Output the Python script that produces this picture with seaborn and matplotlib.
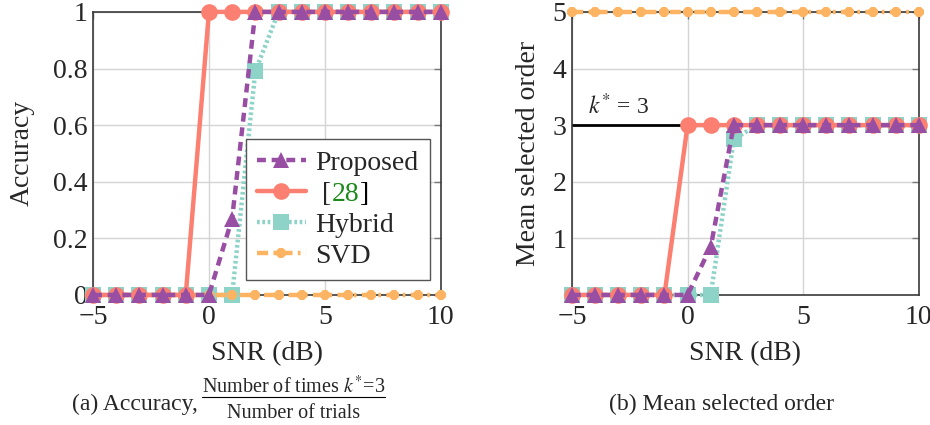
import numpy as np
import pandas as pd
from matplotlib import pyplot as plt
import seaborn as sns

# SNR sweep (dB)
snr = list(range(-5, 11))

# accuracy = number of times k*=3 / number of trials
acc_proposed = [0, 0, 0, 0, 0, 0, 0.27, 1, 1, 1, 1, 1, 1, 1, 1, 1]
acc_ref28 = [0, 0, 0, 0, 0, 1, 1, 1, 1, 1, 1, 1, 1, 1, 1, 1]
acc_hybrid = [0, 0, 0, 0, 0, 0, 0, 0.79, 1, 1, 1, 1, 1, 1, 1, 1]
acc_svd = [0] * 16

# mean selected order
ord_proposed = [0, 0, 0, 0, 0, 0, 0.85, 3, 3, 3, 3, 3, 3, 3, 3, 3]
ord_ref28 = [0, 0, 0, 0, 0, 3, 3, 3, 3, 3, 3, 3, 3, 3, 3, 3]
ord_hybrid = [0, 0, 0, 0, 0, 0, 0, 2.75, 3, 3, 3, 3, 3, 3, 3, 3]
ord_svd = [5] * 16

k_true = 3

sns.set_style('whitegrid')
plt.rcParams['font.family'] = ['Liberation Serif', 'DejaVu Serif']
plt.rcParams['mathtext.fontset'] = 'stix'

styles = {
    'Hybrid': dict(color='#8dd3c7', linestyle=(0, (0.6, 0.6)), marker='s',
                   markersize=11, markeredgewidth=0),
    'SVD': dict(color='#fdb462', linestyle=(0, (2.5, 1.2, 0.6, 1.2)), marker='8',
                markersize=8, markeredgewidth=0),
    '[28]': dict(color='#fb8072', linestyle='-', marker='o',
                 markersize=12, markeredgewidth=0),
    'Proposed': dict(color='#984ea3', linestyle=(0, (2, 1.3)), marker='^',
                     markersize=12, markeredgewidth=0),
}

FS = 20

fig = plt.figure(figsize=(9.3, 4.25), dpi=100)
ax1 = fig.add_axes([0.100, 0.306, 0.374, 0.666])
ax2 = fig.add_axes([0.615, 0.306, 0.373, 0.666])


def draw(ax, series):
    handles = {}
    for name in ['Hybrid', 'SVD', '[28]', 'Proposed']:
        df = pd.DataFrame({'SNR': snr, 'val': series[name]})
        sns.lineplot(data=df, x='SNR', y='val', ax=ax, linewidth=3.2,
                     clip_on=False, zorder=3, **styles[name])
        handles[name] = ax.lines[-1]
    ax.set_xlim(-5, 10)
    ax.set_xticks([-5, 0, 5, 10])
    ax.set_xticklabels(['\u22125', '0', '5', '10'])
    ax.grid(True, color='#d4d4d4', linewidth=1)
    for s in ax.spines.values():
        s.set_color('#3a3a3a')
        s.set_linewidth(1.2)
    ax.tick_params(direction='in', length=5, width=1, color='#7a7a7a',
                   top=True, right=True, labelsize=FS, pad=4)
    ax.tick_params(axis='x', pad=7)
    ax.set_xlabel('SNR (dB)', fontsize=FS, labelpad=8)
    return handles


h = draw(ax1, {'Proposed': acc_proposed, '[28]': acc_ref28,
               'Hybrid': acc_hybrid, 'SVD': acc_svd})
ax1.set_ylim(0, 1)
ax1.set_yticks([0, 0.2, 0.4, 0.6, 0.8, 1])
ax1.set_yticklabels(['0', '0.2', '0.4', '0.6', '0.8', '1'])
ax1.set_ylabel('Accuracy', fontsize=FS, labelpad=13)

order = ['Proposed', '[28]', 'Hybrid', 'SVD']
leg = ax1.legend([h[k] for k in order], ['Proposed', ' [', 'Hybrid', 'SVD'],
                 loc='lower right', bbox_to_anchor=(0.968, 0.053),
                 fontsize=FS, fancybox=False, framealpha=1, edgecolor='#555555',
                 handlelength=1.75, handletextpad=0.35, labelspacing=0.2,
                 borderpad=0.4, borderaxespad=0)
leg.get_frame().set_linewidth(1)
leg.set_zorder(10)
t = leg.get_texts()[1]
t2 = ax1.annotate('28', xy=(1, 0), xycoords=t, va='bottom', ha='left',
                  color='#1a8a1a', fontsize=FS, zorder=11)
ax1.annotate(']', xy=(1, 0), xycoords=t2, va='bottom', ha='left',
             color='black', fontsize=FS, zorder=11)

draw(ax2, {'Proposed': ord_proposed, '[28]': ord_ref28,
           'Hybrid': ord_hybrid, 'SVD': ord_svd})
ax2.set_ylim(0, 5)
ax2.set_yticks([1, 2, 3, 4, 5])
ax2.set_ylabel('Mean selected order', fontsize=FS, labelpad=8)
ax2.plot([-5, 0], [k_true, k_true], color='black', linewidth=2, zorder=2)
ax2.text(-4.3, k_true + 0.1, r'$k^{*}$ = 3', fontsize=17, ha='left', va='bottom')

# sub-captions
fig.text(0.0774, 0.035, '(a) Accuracy,', fontsize=17, ha='left', va='baseline')
fig.text(0.3156, 0.0753, 'Number of times $k^{*}$=3', fontsize=14.5,
         ha='center', va='baseline')
fig.text(0.3156, 0.0165, 'Number of trials', fontsize=14.5,
         ha='center', va='baseline')
fig.add_artist(plt.Line2D([0.217, 0.414], [0.066, 0.066], color='black',
                          linewidth=0.8, transform=fig.transFigure))
fig.text(0.655, 0.035, '(b) Mean selected order', fontsize=17,
         ha='left', va='baseline')

plt.savefig('out.png', dpi=100)
